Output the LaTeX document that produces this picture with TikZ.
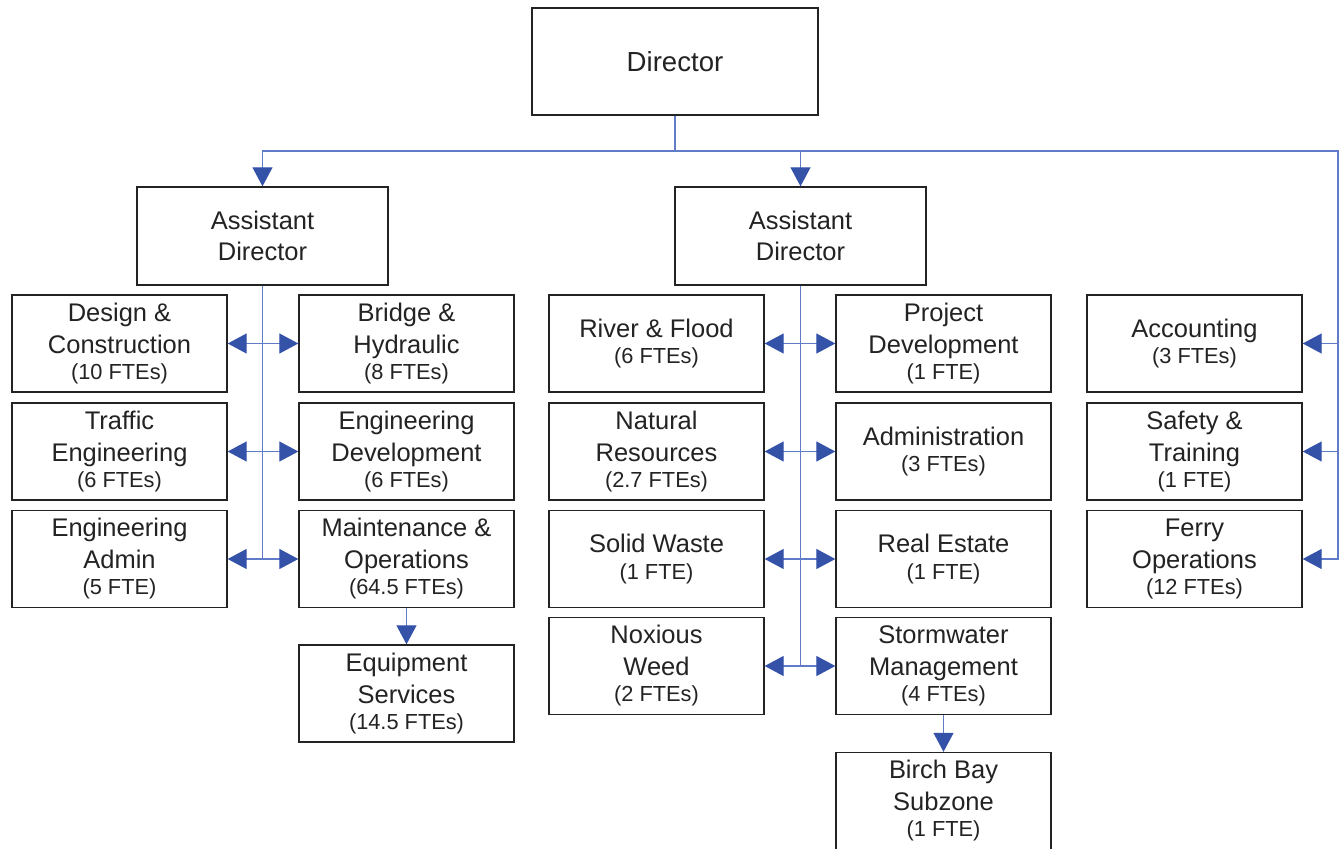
\documentclass[tikz,border=0pt]{standalone}
\usepackage{fontspec}
\setmainfont{Liberation Sans}
\usetikzlibrary{arrows.meta}
\definecolor{wire}{RGB}{96,124,200}
\definecolor{tipblue}{RGB}{52,82,168}
\definecolor{ink}{RGB}{35,35,35}
% head count line, set a little smaller and closer
\newcommand{\ftes}[1]{\\[-3pt]{\fontsize{12.4}{15}\selectfont(#1)}}
\tikzset{
  unit/.style={draw=ink,line width=0.8pt,fill=white,minimum width=4.3cm,
    minimum height=1.94cm,align=center,text=ink,inner sep=0pt,
    font=\fontsize{14.5}{18}\selectfont},
  head/.style={unit,minimum width=5.02cm,minimum height=1.96cm},
  link/.style={draw=wire,line width=0.7pt},
  flow/.style={link,-{Triangle[length=3.8mm,width=4mm,color=tipblue]}},
  both/.style={link,{Triangle[length=3.8mm,width=4mm,color=tipblue]}-{Triangle[length=3.8mm,width=4mm,color=tipblue]}},
}

\begin{document}
\begin{tikzpicture}[x=0.02cm,y=-0.02cm]
  \useasboundingbox (0,0) rectangle (1341,848);
  \clip (0,0) rectangle (1341,848);

  % top of the tree
  \node[unit,minimum width=5.72cm,minimum height=2.14cm,
    font=\fontsize{15.7}{18}\selectfont] (dir) at (675,61.5) {Director};
  \node[head] (asl) at (262.5,236) {Assistant\\Director};
  \node[head] (asm) at (800.5,236) {Assistant\\Director};

  % left branch
  \node[unit] (dc) at (119.5,343.5) {Design \&\\Construction\ftes{10 FTEs}};
  \node[unit] (bh) at (406.5,343.5) {Bridge \&\\Hydraulic\ftes{8 FTEs}};
  \node[unit] (te) at (119.5,451.5) {Traffic\\Engineering\ftes{6 FTEs}};
  \node[unit] (ed) at (406.5,451.5) {Engineering\\Development\ftes{6 FTEs}};
  \node[unit] (ea) at (119.5,559) {Engineering\\Admin\ftes{5 FTE}};
  \node[unit] (mo) at (406.5,559) {Maintenance \&\\Operations\ftes{64.5 FTEs}};
  \node[unit] (es) at (406.5,693.5) {Equipment\\Services\ftes{14.5 FTEs}};

  % middle branch
  \node[unit] (rf) at (656.5,343.5) {River \& Flood\ftes{6 FTEs}};
  \node[unit] (pd) at (943.5,343.5) {Project\\Development\ftes{1 FTE}};
  \node[unit] (nr) at (656.5,451.5) {Natural\\Resources\ftes{2.7 FTEs}};
  \node[unit] (adn) at (943.5,451.5) {Administration\ftes{3 FTEs}};
  \node[unit] (sw) at (656.5,559) {Solid Waste\ftes{1 FTE}};
  \node[unit] (re) at (943.5,559) {Real Estate\ftes{1 FTE}};
  \node[unit] (nw) at (656.5,666) {Noxious\\Weed\ftes{2 FTEs}};
  \node[unit] (sm) at (943.5,666) {Stormwater\\Management\ftes{4 FTEs}};
  \node[unit] (bb) at (943.5,801) {Birch Bay\\Subzone\ftes{1 FTE}};

  % right column
  \node[unit] (acc) at (1194.5,343.5) {Accounting\ftes{3 FTEs}};
  \node[unit] (st) at (1194.5,451.5) {Safety \&\\Training\ftes{1 FTE}};
  \node[unit] (fo) at (1194.5,559) {Ferry\\Operations\ftes{12 FTEs}};

  % director bus
  \coordinate (bus) at (675,151);
  \coordinate (rail) at (1338,151);
  \draw[link] (dir.south) -- (bus);
  \draw[flow] (bus) -| (asl.north);
  \draw[flow] (bus) -| (asm.north);
  \draw[flow] (bus) -- (rail) |- (fo.east);
  \draw[flow] (rail |- acc.east) -- (acc.east);
  \draw[flow] (rail |- st.east) -- (st.east);

  % assistant directors to their units
  \draw[link] (asl.south) -- (asl.south |- ea.east);
  \foreach \a/\b in {dc/bh,te/ed,ea/mo}
    \draw[both] (\a.east) -- (\b.west);
  \draw[link] (asm.south) -- (asm.south |- nw.east);
  \foreach \a/\b in {rf/pd,nr/adn,sw/re,nw/sm}
    \draw[both] (\a.east) -- (\b.west);

  \draw[flow] (mo.south) -- (es.north);
  \draw[flow] (sm.south) -- (bb.north);
\end{tikzpicture}
\end{document}
